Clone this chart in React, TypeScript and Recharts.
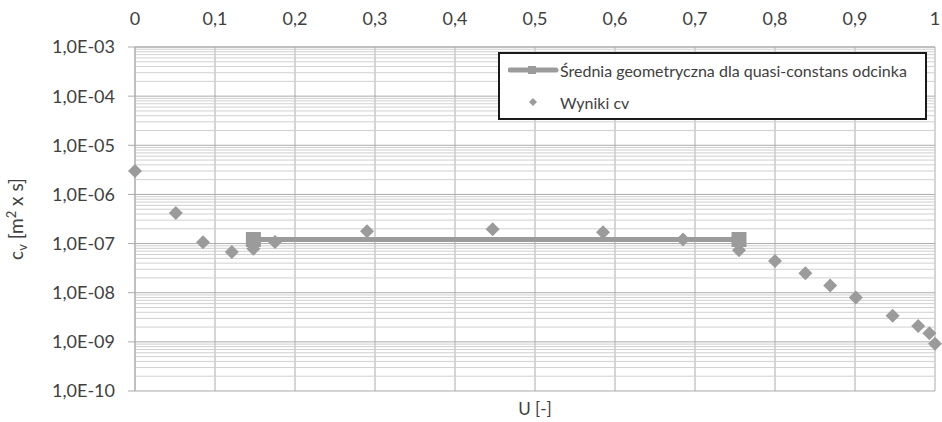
import { ScatterChart, Scatter, XAxis, YAxis, CartesianGrid, ReferenceLine } from "recharts";

// measured consolidation coefficient vs. degree of consolidation
const U_VALUES = [0, 0.051, 0.085, 0.121, 0.148, 0.175, 0.29, 0.447, 0.585, 0.685, 0.755, 0.8, 0.838, 0.869, 0.901, 0.947, 0.979, 0.993, 1.0];
const CV_VALUES = [3.0e-6, 4.2e-7, 1.07e-7, 6.7e-8, 7.8e-8, 1.08e-7, 1.79e-7, 1.96e-7, 1.7e-7, 1.21e-7, 7.3e-8, 4.4e-8, 2.5e-8, 1.4e-8, 8.0e-9, 3.4e-9, 2.1e-9, 1.5e-9, 9.2e-10];

// geometric mean over the quasi-constant segment
const MEAN_U = [0.148, 0.755];
const MEAN_CV = 1.21e-7;

const X_TICKS = [0, 0.1, 0.2, 0.3, 0.4, 0.5, 0.6, 0.7, 0.8, 0.9, 1];
const Y_TICKS = [1e-10, 1e-9, 1e-8, 1e-7, 1e-6, 1e-5, 1e-4, 1e-3];

// minor log gridlines: 2..9 x 10^e
const MINOR_Y: number[] = [];
for (let e = -10; e < -3; e++) {
  for (let k = 2; k <= 9; k++) MINOR_Y.push(k * Math.pow(10, e));
}

const points = U_VALUES.map((u, i) => ({ u, cv: CV_VALUES[i] }));
const meanPoints = MEAN_U.map((u) => ({ u, cv: MEAN_CV }));

const GREY = "#9b9b9b";
const TEXT = "#404040";
const FONT = "Lato, 'Open Sans', sans-serif";

const fmtX = (v: number) => String(v).replace(".", ",");
const fmtY = (v: number) => {
  const e = -Math.round(Math.log10(v));
  return "1,0E-" + String(e).padStart(2, "0");
};

const Diamond = (props: any) => {
  const { cx, cy } = props;
  const r = 7;
  return <polygon points={`${cx},${cy - r} ${cx + r},${cy} ${cx},${cy + r} ${cx - r},${cy}`} fill={GREY} />;
};

const Square = (props: any) => {
  const { cx, cy } = props;
  return <rect x={cx - 7.5} y={cy - 7.5} width={15} height={15} fill={GREY} />;
};

const YLabel = () => (
  <text transform="translate(23,219) rotate(-90)" textAnchor="middle" fontFamily={FONT} fontSize={19} fill={TEXT}>
    <tspan>c</tspan>
    <tspan fontSize={13} dy={4}>v</tspan>
    <tspan dy={-4}> [m</tspan>
    <tspan fontSize={13} dy={-7}>2</tspan>
    <tspan dy={7}> x s]</tspan>
  </text>
);

const LegendBox = () => (
  <div
    style={{
      position: "absolute",
      left: 498,
      top: 52,
      width: 425,
      height: 64,
      border: "2px solid #1a1a1a",
      background: "#fff",
      fontFamily: FONT,
      fontSize: 16,
      color: TEXT,
    }}
  >
    <div style={{ display: "flex", alignItems: "center", height: 32 }}>
      <svg width={52} height={12} style={{ marginLeft: 8 }}>
        <line x1={2} y1={6} x2={48} y2={6} stroke={GREY} strokeWidth={5} strokeLinecap="round" />
        <rect x={20} y={2} width={8} height={8} fill={GREY} />
      </svg>
      <span>Średnia geometryczna dla quasi-constans odcinka</span>
    </div>
    <div style={{ display: "flex", alignItems: "center", height: 32 }}>
      <svg width={52} height={12} style={{ marginLeft: 8 }}>
        <polygon points="25,2 29,6 25,10 21,6" fill={GREY} />
      </svg>
      <span>Wyniki cv</span>
    </div>
  </div>
);

export default function App() {
  return (
    <div style={{ position: "absolute", left: 0, top: 0, width: 942, height: 422, background: "#fff" }}>
      <ScatterChart width={942} height={422} margin={{ top: 0, right: 7, bottom: 31, left: 0 }}>
        <CartesianGrid stroke="#ababab" strokeWidth={1} />
        {MINOR_Y.map((v) => (
          <ReferenceLine key={v} y={v} stroke="#d0d0d0" strokeWidth={1} />
        ))}
        <XAxis
          type="number"
          dataKey="u"
          orientation="top"
          domain={[0, 1]}
          ticks={X_TICKS}
          tickFormatter={fmtX}
          height={47}
          axisLine={{ stroke: "#ababab" }}
          tickLine={false}
          tickMargin={16}
          tick={{ fontSize: 18, fill: TEXT, fontFamily: FONT }}
        />
        <YAxis
          type="number"
          dataKey="cv"
          scale="log"
          domain={[1e-10, 1e-3]}
          ticks={Y_TICKS}
          tickFormatter={fmtY}
          allowDataOverflow
          width={135}
          axisLine={{ stroke: "#ababab" }}
          tickLine={{ stroke: "#ababab" }}
          tickSize={7}
          tickMargin={13}
          tick={{ fontSize: 18, fill: TEXT, fontFamily: FONT }}
          label={{ content: YLabel }}
        />
        <Scatter name="Wyniki cv" data={points} shape={Diamond} isAnimationActive={false} />
        <Scatter
          name="Średnia geometryczna dla quasi-constans odcinka"
          data={meanPoints}
          shape={Square}
          line={{ stroke: GREY, strokeWidth: 5 }}
          lineType="joint"
          isAnimationActive={false}
        />
      </ScatterChart>
      <LegendBox />
      <div
        style={{
          position: "absolute",
          left: 0,
          width: 942 + 135 - 7,
          top: 398,
          textAlign: "center",
          fontFamily: FONT,
          fontSize: 17,
          color: TEXT,
        }}
      >
        U [-]
      </div>
    </div>
  );
}
